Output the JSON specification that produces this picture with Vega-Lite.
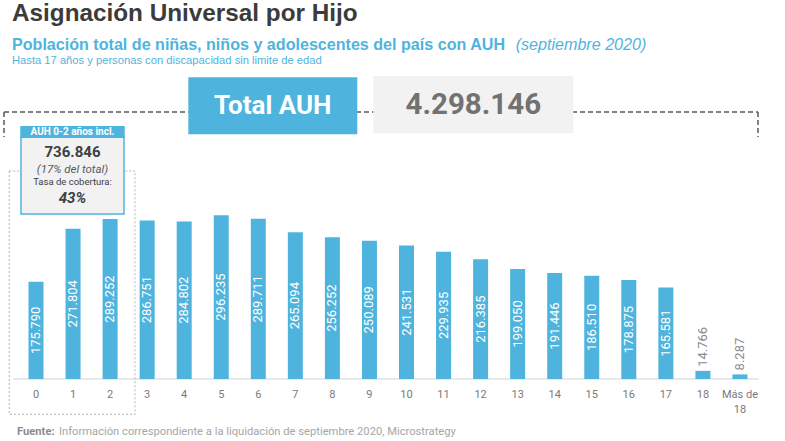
{
  "$schema": "https://vega.github.io/schema/vega-lite/v6.json",
  "width": 785,
  "height": 441,
  "autosize": "none",
  "padding": 0,
  "background": "white",
  "config": {
    "view": {"stroke": null},
    "axis": {"disable": true}
  },
  "datasets": {
    "edades": [
      {"orden": 0, "grupo": "0", "cantidad": 175790, "etiqueta": "175.790"},
      {"orden": 1, "grupo": "1", "cantidad": 271804, "etiqueta": "271.804"},
      {"orden": 2, "grupo": "2", "cantidad": 289252, "etiqueta": "289.252"},
      {"orden": 3, "grupo": "3", "cantidad": 286751, "etiqueta": "286.751"},
      {"orden": 4, "grupo": "4", "cantidad": 284802, "etiqueta": "284.802"},
      {"orden": 5, "grupo": "5", "cantidad": 296235, "etiqueta": "296.235"},
      {"orden": 6, "grupo": "6", "cantidad": 289711, "etiqueta": "289.711"},
      {"orden": 7, "grupo": "7", "cantidad": 265094, "etiqueta": "265.094"},
      {"orden": 8, "grupo": "8", "cantidad": 256252, "etiqueta": "256.252"},
      {"orden": 9, "grupo": "9", "cantidad": 250089, "etiqueta": "250.089"},
      {"orden": 10, "grupo": "10", "cantidad": 241531, "etiqueta": "241.531"},
      {"orden": 11, "grupo": "11", "cantidad": 229935, "etiqueta": "229.935"},
      {"orden": 12, "grupo": "12", "cantidad": 216385, "etiqueta": "216.385"},
      {"orden": 13, "grupo": "13", "cantidad": 199050, "etiqueta": "199.050"},
      {"orden": 14, "grupo": "14", "cantidad": 191446, "etiqueta": "191.446"},
      {"orden": 15, "grupo": "15", "cantidad": 186510, "etiqueta": "186.510"},
      {"orden": 16, "grupo": "16", "cantidad": 178875, "etiqueta": "178.875"},
      {"orden": 17, "grupo": "17", "cantidad": 165581, "etiqueta": "165.581"},
      {"orden": 18, "grupo": "18", "cantidad": 14766, "etiqueta": "14.766"},
      {"orden": 19, "grupo": "Más de\n18", "cantidad": 8287, "etiqueta": "8.287"}
    ]
  },
  "layer": [
    {
      "layer": [
        {
          "data": {"values": [{}]},
          "mark": {"type": "rule", "color": "#d4d4d4", "strokeWidth": 1},
          "encoding": {
            "x": {"datum": -0.621, "type": "quantitative", "scale": {"domain": [-0.9717, 20.2159], "nice": false, "zero": false, "padding": 0}},
            "x2": {"datum": 19.514},
            "y": {"datum": 0, "type": "quantitative", "scale": {"domain": [-112100, 685200], "nice": false, "zero": false, "padding": 0}}
          }
        },
        {
          "data": {"values": [{}]},
          "mark": {"type": "rect", "fill": null, "stroke": "#b3b3b3", "strokeWidth": 1, "strokeDash": [2, 2]},
          "encoding": {
            "x": {"datum": -0.721, "type": "quantitative"},
            "x2": {"datum": 2.672},
            "y": {"datum": 376064, "type": "quantitative"},
            "y2": {"datum": -63822}
          }
        },
        {
          "data": {"name": "edades"},
          "mark": {"type": "bar", "width": 15, "color": "#4fb4dd"},
          "encoding": {
            "x": {"field": "orden", "type": "quantitative", "axis": null},
            "y": {"field": "cantidad", "type": "quantitative", "axis": null},
            "y2": {"datum": 0}
          }
        },
        {
          "data": {"name": "edades"},
          "transform": [{"filter": "datum.cantidad < 50000"}],
          "mark": {"type": "text", "angle": 270, "align": "left", "baseline": "middle", "dx": 4, "font": "Roboto", "fontSize": 13, "color": "#8c8c8c"},
          "encoding": {
            "x": {"field": "orden", "type": "quantitative"},
            "y": {"field": "cantidad", "type": "quantitative"},
            "text": {"field": "etiqueta"}
          }
        },
        {
          "data": {"name": "edades"},
          "mark": {"type": "text", "align": "center", "baseline": "alphabetic", "lineBreak": "\n", "lineHeight": 15, "font": "Roboto", "fontSize": 11, "color": "#7a7a7a"},
          "encoding": {
            "x": {"field": "orden", "type": "quantitative"},
            "y": {"datum": -34352, "type": "quantitative"},
            "text": {"field": "grupo"}
          }
        },
        {
          "data": {"values": [{}]},
          "mark": {"type": "rule", "color": "#595959", "strokeWidth": 1.5, "strokeDash": [5, 3]},
          "encoding": {
            "x": {"datum": -0.864, "type": "quantitative"},
            "x2": {"datum": 19.487},
            "y": {"datum": 482736, "type": "quantitative"}
          }
        },
        {
          "data": {"values": [{}]},
          "mark": {"type": "rule", "color": "#595959", "strokeWidth": 1.5, "strokeDash": [5, 3]},
          "encoding": {
            "x": {"datum": -0.864, "type": "quantitative"},
            "y": {"datum": 482736, "type": "quantitative"},
            "y2": {"datum": 437536}
          }
        },
        {
          "data": {"values": [{}]},
          "mark": {"type": "rule", "color": "#595959", "strokeWidth": 1.5, "strokeDash": [5, 3]},
          "encoding": {
            "x": {"datum": 19.487, "type": "quantitative"},
            "y": {"datum": 482736, "type": "quantitative"},
            "y2": {"datum": 437536}
          }
        },
        {
          "data": {"values": [{}]},
          "mark": {"type": "rect", "fill": "#4fb4dd"},
          "encoding": {
            "x": {"datum": 4.111, "type": "quantitative"},
            "x2": {"datum": 8.672},
            "y": {"datum": 545474, "type": "quantitative"},
            "y2": {"datum": 442418}
          }
        },
        {
          "data": {"values": [{}]},
          "mark": {"type": "rect", "fill": "#f2f2f2"},
          "encoding": {
            "x": {"datum": 9.104, "type": "quantitative"},
            "x2": {"datum": 14.502},
            "y": {"datum": 547824, "type": "quantitative"},
            "y2": {"datum": 444226}
          }
        },
        {
          "data": {"values": [{}]},
          "mark": {"type": "text", "text": "Total AUH", "align": "center", "baseline": "middle", "font": "Roboto", "fontWeight": "bold", "fontSize": 26, "color": "white"},
          "encoding": {
            "x": {"datum": 6.391, "type": "quantitative"},
            "y": {"datum": 493946, "type": "quantitative"}
          }
        },
        {
          "data": {"values": [{}]},
          "mark": {"type": "text", "text": "4.298.146", "align": "center", "baseline": "middle", "font": "Roboto", "fontWeight": "bold", "fontSize": 29.5, "color": "#727272"},
          "encoding": {
            "x": {"datum": 11.803, "type": "quantitative"},
            "y": {"datum": 495934, "type": "quantitative"}
          }
        },
        {
          "data": {"values": [{}]},
          "mark": {"type": "rect", "fill": "#f2f2f2", "stroke": "#4fb4dd", "strokeWidth": 1.5},
          "encoding": {
            "x": {"datum": -0.405, "type": "quantitative"},
            "x2": {"datum": 2.375},
            "y": {"datum": 436994, "type": "quantitative"},
            "y2": {"datum": 298320}
          }
        },
        {
          "data": {"values": [{}]},
          "mark": {"type": "rect", "fill": "#4fb4dd", "stroke": "#4fb4dd", "strokeWidth": 1.5},
          "encoding": {
            "x": {"datum": -0.405, "type": "quantitative"},
            "x2": {"datum": 2.375},
            "y": {"datum": 456158, "type": "quantitative"},
            "y2": {"datum": 436994}
          }
        },
        {
          "data": {"values": [{}]},
          "mark": {"type": "text", "text": "AUH 0-2 años incl.", "align": "center", "baseline": "middle", "font": "Roboto", "fontWeight": "bold", "fontSize": 10, "color": "white"},
          "encoding": {
            "x": {"datum": 0.985, "type": "quantitative"},
            "y": {"datum": 446576, "type": "quantitative"}
          }
        },
        {
          "data": {"values": [{}]},
          "mark": {"type": "text", "text": "736.846", "align": "center", "baseline": "middle", "font": "Roboto", "fontWeight": "bold", "fontSize": 15, "color": "#404040"},
          "encoding": {
            "x": {"datum": 0.985, "type": "quantitative"},
            "y": {"datum": 410958, "type": "quantitative"}
          }
        },
        {
          "data": {"values": [{}]},
          "mark": {"type": "text", "text": "(17% del total)", "align": "center", "baseline": "middle", "font": "Roboto", "fontStyle": "italic", "fontSize": 11.5, "color": "#595959"},
          "encoding": {
            "x": {"datum": 0.985, "type": "quantitative"},
            "y": {"datum": 377872, "type": "quantitative"}
          }
        },
        {
          "data": {"values": [{}]},
          "mark": {"type": "text", "text": "Tasa de cobertura:", "align": "center", "baseline": "middle", "font": "Roboto", "fontSize": 9.5, "color": "#404040"},
          "encoding": {
            "x": {"datum": 0.985, "type": "quantitative"},
            "y": {"datum": 356176, "type": "quantitative"}
          }
        },
        {
          "data": {"values": [{}]},
          "mark": {"type": "text", "text": "43%", "align": "center", "baseline": "middle", "font": "Roboto", "fontWeight": "bold", "fontStyle": "italic", "fontSize": 15, "color": "#404040"},
          "encoding": {
            "x": {"datum": 0.985, "type": "quantitative"},
            "y": {"datum": 327790, "type": "quantitative"}
          }
        },
        {
          "data": {"values": [{}]},
          "mark": {"type": "text", "text": "Asignación Universal por Hijo", "align": "left", "baseline": "alphabetic", "font": "Liberation Sans", "fontWeight": "bold", "fontSize": 24.3, "color": "#3b3b3b"},
          "encoding": {
            "x": {"datum": -0.648, "type": "quantitative"},
            "y": {"datum": 646360, "type": "quantitative"}
          }
        },
        {
          "data": {"values": [{}]},
          "mark": {"type": "text", "text": "Población total de niñas, niños y adolescentes del país con AUH", "align": "left", "baseline": "alphabetic", "font": "Liberation Sans", "fontWeight": "bold", "fontSize": 16.1, "color": "#4fb4dd"},
          "encoding": {
            "x": {"datum": -0.648, "type": "quantitative"},
            "y": {"datum": 593928, "type": "quantitative"}
          }
        },
        {
          "data": {"values": [{}]},
          "mark": {"type": "text", "text": "(septiembre 2020)", "align": "left", "baseline": "alphabetic", "font": "Liberation Sans", "fontStyle": "italic", "fontSize": 16.1, "color": "#4fb4dd"},
          "encoding": {
            "x": {"datum": 12.947, "type": "quantitative"},
            "y": {"datum": 593928, "type": "quantitative"}
          }
        },
        {
          "data": {"values": [{}]},
          "mark": {"type": "text", "text": "Hasta 17 años y personas con discapacidad sin limite de edad", "align": "left", "baseline": "alphabetic", "font": "Liberation Sans", "fontSize": 11.2, "color": "#4fb4dd"},
          "encoding": {
            "x": {"datum": -0.648, "type": "quantitative"},
            "y": {"datum": 568616, "type": "quantitative"}
          }
        },
        {
          "data": {"values": [{}]},
          "mark": {"type": "text", "text": "Fuente:", "align": "left", "baseline": "middle", "font": "Roboto", "fontWeight": "bold", "fontSize": 11.2, "color": "#8c8c8c"},
          "encoding": {
            "x": {"datum": -0.513, "type": "quantitative"},
            "y": {"datum": -95282, "type": "quantitative"}
          }
        },
        {
          "data": {"values": [{}]},
          "mark": {"type": "text", "text": "Información correspondiente a la liquidación de septiembre 2020, Microstrategy", "align": "left", "baseline": "middle", "font": "Roboto", "fontSize": 11.2, "color": "#a6a6a6"},
          "encoding": {
            "x": {"datum": 0.62, "type": "quantitative"},
            "y": {"datum": -95282, "type": "quantitative"}
          }
        }
      ]
    },
    {
      "data": {"name": "edades"},
      "transform": [{"filter": "datum.cantidad >= 50000"}],
      "mark": {"type": "text", "angle": 270, "align": "center", "baseline": "middle", "font": "Roboto", "fontSize": 13, "color": "white"},
      "encoding": {
        "x": {"field": "orden", "type": "quantitative"},
        "y": {"field": "cantidad", "type": "quantitative", "scale": {"domain": [-224200, 1370400], "nice": false, "zero": false, "padding": 0}},
        "text": {"field": "etiqueta"}
      }
    }
  ],
  "resolve": {"scale": {"y": "independent"}}
}
